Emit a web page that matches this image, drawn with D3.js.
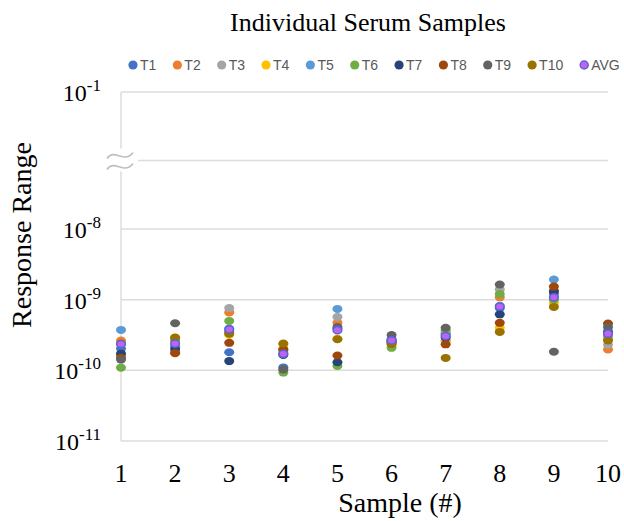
<!DOCTYPE html>
<html>
<head>
<meta charset="utf-8">
<script src="https://cdn.jsdelivr.net/npm/d3@7/dist/d3.min.js"></script>
<style>
  html, body { margin: 0; padding: 0; background: #fff; }
  svg { display: block; }
</style>
</head>
<body>
<div id="chart"></div>
<script>
// data
const samples = [1, 2, 3, 4, 5, 6, 7, 8, 9, 10];
const seriesNames = ['T1', 'T2', 'T3', 'T4', 'T5', 'T6', 'T7', 'T8', 'T9', 'T10', 'AVG'];

const T1  = [2.03e-10, 2.2e-10, 1.8e-10, 1.1e-10, 3.9e-10, 2.6e-10, 3.3e-10, 7.6e-10, 1.2e-9, 3.5e-10];
const T2  = [2.64e-10, 1.8e-10, 6.6e-10, 2.0e-10, 4.7e-10, 2.4e-10, 2.6e-10, 1.08e-9, 1.35e-9, 1.97e-10];
const T3  = [1.67e-10, 2.2e-10, 7.6e-10, 1.9e-10, 5.7e-10, 2.7e-10, 3.4e-10, 1.4e-9, 1.1e-9, 2.3e-10];
const T4  = [2.38e-10, 2.9e-10, 3.2e-10, 2.3e-10, 2.8e-10, 2.3e-10, 2.6e-10, 4.0e-10, 9.0e-10, 2.7e-10];
const T5  = [3.73e-10, 2.8e-10, 3.9e-10, 1.75e-10, 7.4e-10, 2.8e-10, 3.2e-10, 8.2e-10, 1.93e-9, 3.6e-10];
const T6  = [1.09e-10, 2.6e-10, 5.0e-10, 9.3e-11, 1.15e-10, 2.08e-10, 3.7e-10, 1.2e-9, 1.0e-9, 3.0e-10];
const T7  = [1.72e-10, 2.0e-10, 1.35e-10, 1.65e-10, 1.3e-10, 2.6e-10, 2.9e-10, 6.2e-10, 1.3e-9, 3.4e-10];
const T8  = [1.51e-10, 1.75e-10, 2.45e-10, 1.96e-10, 1.62e-10, 2.5e-10, 2.33e-10, 4.7e-10, 1.53e-9, 4.6e-10];
const T9  = [1.42e-10, 4.64e-10, 3.5e-10, 1.03e-10, 4.1e-10, 3.15e-10, 4.0e-10, 1.64e-9, 1.83e-10, 4.1e-10];
const T10 = [2.4e-10, 2.91e-10, 3.3e-10, 2.4e-10, 2.75e-10, 2.35e-10, 1.5e-10, 3.5e-10, 7.9e-10, 2.65e-10];
const AVG = [2.36e-10, 2.39e-10, 3.8e-10, 1.71e-10, 3.7e-10, 2.65e-10, 3.06e-10, 8.0e-10, 1.08e-9, 3.3e-10];

const seriesValues = [T1, T2, T3, T4, T5, T6, T7, T8, T9, T10, AVG];

// y ticks as powers of ten; the axis is broken between 1e-8 and 1e-1
const yTickExps = [-11, -10, -9, -8, -1];
const yBreakExp = -4.5;

const colors = ['#4472C4', '#ED7D31', '#A5A5A5', '#FFC000', '#5B9BD5', '#70AD47',
                '#264478', '#9E480E', '#636363', '#997300', '#C262F2'];
const avgStroke = '#5566D6';

const W = 624, H = 521;
const serif = '"Liberation Serif", "Times New Roman", serif';
const sans = '"Liberation Sans", Arial, sans-serif';
const gridCol = '#dcdcdc';

const svg = d3.select('#chart').append('svg')
  .attr('width', W).attr('height', H).attr('viewBox', `0 0 ${W} ${H}`);

const x = d3.scaleLinear().domain([1, 10]).range([121, 608]);
// piecewise on the exponent: lower decades evenly spaced, the 1e-8..1e-1 stretch compressed
const y = d3.scaleLinear().domain([-11, -8, -1]).range([441, 229, 92]);
const yv = v => y(Math.log10(v));

// gridlines
const grid = svg.append('g');
grid.selectAll('line.g').data(yTickExps).join('line').attr('class', 'g')
  .attr('x1', x(1)).attr('x2', x(10))
  .attr('y1', d => y(d)).attr('y2', d => y(d))
  .attr('stroke', gridCol).attr('stroke-width', 1.5);
grid.append('line')
  .attr('x1', x(1) + 17).attr('x2', x(10))
  .attr('y1', y(yBreakExp)).attr('y2', y(yBreakExp))
  .attr('stroke', gridCol).attr('stroke-width', 1.5);

// vertical axis with break
const ax = x(1), yb = y(yBreakExp);
grid.append('line').attr('x1', ax).attr('x2', ax).attr('y1', y(-1)).attr('y2', yb - 12)
  .attr('stroke', gridCol).attr('stroke-width', 1.5);
grid.append('line').attr('x1', ax).attr('x2', ax).attr('y1', yb + 11).attr('y2', y(-11))
  .attr('stroke', gridCol).attr('stroke-width', 1.5);
[-5, 6].forEach(dy => {
  const c = yb + dy;
  grid.append('path')
    .attr('d', `M${ax - 14},${c + 3} C${ax - 7},${c - 8} ${ax + 3},${c + 9} ${ax + 12},${c - 3}`)
    .attr('fill', 'none').attr('stroke', '#bfbfbf').attr('stroke-width', 1.6);
});

// y tick labels (10 with superscript)
const yl = svg.append('g').style('font-family', serif).attr('fill', '#000');
yTickExps.forEach(e => {
  const t = yl.append('text').attr('x', 101).attr('y', y(e) + 9)
    .attr('text-anchor', 'end').style('font-size', '24px');
  t.append('tspan').text('10');
  t.append('tspan').attr('dy', -10).style('font-size', '17px').text(String(e));
});

// x tick labels
svg.append('g').selectAll('text').data(samples).join('text')
  .attr('x', d => x(d)).attr('y', 482).attr('text-anchor', 'middle')
  .style('font-family', serif).style('font-size', '26px').text(d => d);

// points, T1..T10 then AVG on top
const pts = svg.append('g');
seriesValues.forEach((vals, i) => {
  const isAvg = seriesNames[i] === 'AVG';
  pts.append('g').selectAll('ellipse').data(vals).join('ellipse')
    .attr('cx', (d, j) => x(samples[j])).attr('cy', d => yv(d))
    .attr('rx', isAvg ? 4.3 : 5).attr('ry', isAvg ? 3.6 : 4)
    .attr('fill', colors[i])
    .attr('stroke', isAvg ? avgStroke : 'none').attr('stroke-width', isAvg ? 1.5 : 0);
});

// title
svg.append('text').attr('x', 368).attr('y', 31).attr('text-anchor', 'middle')
  .style('font-family', serif).style('font-size', '26px').text('Individual Serum Samples');

// axis titles
svg.append('text').attr('x', 400).attr('y', 512).attr('text-anchor', 'middle')
  .style('font-family', serif).style('font-size', '28px').text('Sample (#)');
svg.append('text').attr('transform', 'translate(31,235) rotate(-90)').attr('text-anchor', 'middle')
  .style('font-family', serif).style('font-size', '28px').text('Response Range');

// legend
const leg = svg.append('g');
let cx = 133;
const ly = 65;
seriesNames.forEach((name, i) => {
  const isAvg = name === 'AVG';
  leg.append('circle').attr('cx', cx).attr('cy', ly).attr('r', isAvg ? 4 : 4.6)
    .attr('fill', colors[i])
    .attr('stroke', isAvg ? avgStroke : 'none').attr('stroke-width', isAvg ? 1.5 : 0);
  const t = leg.append('text').attr('x', cx + 7).attr('y', ly + 5)
    .style('font-family', sans).style('font-size', '14px').attr('fill', '#595959').text(name);
  cx += 7 + t.node().getComputedTextLength() + 21;
});
</script>
</body>
</html>
